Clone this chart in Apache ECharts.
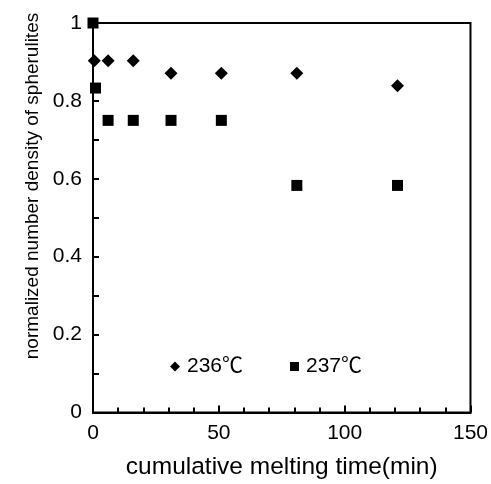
<!DOCTYPE html>
<html>
<head>
<meta charset="utf-8">
<script src="https://cdn.jsdelivr.net/npm/echarts@6/dist/echarts.min.js"></script>
<style>
  html, body { margin: 0; padding: 0; background: #fff; }
  #chart { width: 491px; height: 484px; }
</style>
</head>
<body>
<div id="chart"></div>
<script>
// melting time (min) and normalized spherulite density
const times236 = [0.5, 6, 16, 31, 51, 81, 121]
const dens236 = [0.903, 0.903, 0.903, 0.871, 0.871, 0.871, 0.839]
const times237 = [0, 1, 6, 16, 31, 51, 81, 121]
const dens237 = [1.0, 0.833, 0.75, 0.75, 0.75, 0.75, 0.583, 0.583]
const seriesNames = ['236℃', '237℃']

const font = '"Liberation Sans", Arial, "Noto Sans CJK JP", sans-serif'
const pairs = (xs, ys) => xs.map((x, i) => [x, ys[i]])

const chart = echarts.init(document.getElementById('chart'))

const option = {
  animation: false,
  backgroundColor: '#fff',
  textStyle: { fontFamily: font, color: '#000' },
  grid: {
    left: 93, right: 19, top: 23, bottom: 70,
    show: true, borderColor: '#000', borderWidth: 2, backgroundColor: 'transparent'
  },
  legend: [
    {
      data: [seriesNames[0]], left: 170, top: 356, padding: 0,
      itemWidth: 10, itemHeight: 10, itemGap: 0,
      itemStyle: { opacity: 1 },
      textStyle: { fontSize: 21, color: '#000', fontFamily: font, padding: [0, 0, 0, 2] }
    },
    {
      data: [seriesNames[1]], left: 290, top: 356, padding: 0,
      itemWidth: 9, itemHeight: 9, itemGap: 0,
      itemStyle: { opacity: 1 },
      textStyle: { fontSize: 21, color: '#000', fontFamily: font, padding: [0, 0, 0, 2] }
    }
  ],
  xAxis: {
    type: 'value', min: 0, max: 150, interval: 50,
    name: 'cumulative melting time(min)',
    nameLocation: 'middle', nameGap: 42,
    nameTextStyle: { fontSize: 24.5, color: '#000', fontFamily: font },
    axisLine: { lineStyle: { color: '#000', width: 2 } },
    axisTick: { inside: true, length: 7, lineStyle: { color: '#000', width: 2 } },
    minorTick: { show: true, splitNumber: 5, length: 5, lineStyle: { color: '#000', width: 2 } },
    axisLabel: { fontSize: 21, color: '#000', margin: 10, fontFamily: font },
    splitLine: { show: false }
  },
  yAxis: {
    type: 'value', min: 0, max: 1, interval: 0.2,
    axisLine: { show: true, lineStyle: { color: '#000', width: 2 } },
    axisTick: { show: true, inside: true, length: 6, lineStyle: { color: '#000', width: 2 } },
    minorTick: { show: true, splitNumber: 2, length: 6, lineStyle: { color: '#000', width: 2 } },
    axisLabel: { fontSize: 21, color: '#000', margin: 11, fontFamily: font },
    splitLine: { show: false }
  },
  graphic: [
    {
      type: 'text', x: 33, y: 186, rotation: Math.PI / 2,
      style: {
        text: 'normalized number density of spherulites',
        fontSize: 19, fontFamily: font, fill: '#000',
        align: 'center', verticalAlign: 'middle'
      }
    }
  ],
  series: [
    {
      name: seriesNames[0], type: 'scatter', symbol: 'diamond', symbolSize: 13,
      itemStyle: { color: '#000', opacity: 1 }, clip: false,
      data: pairs(times236, dens236)
    },
    {
      name: seriesNames[1], type: 'scatter', symbol: 'rect', symbolSize: 11,
      itemStyle: { color: '#000', opacity: 1 }, clip: false,
      data: pairs(times237, dens237)
    }
  ]
}

chart.setOption(option)
</script>
</body>
</html>
